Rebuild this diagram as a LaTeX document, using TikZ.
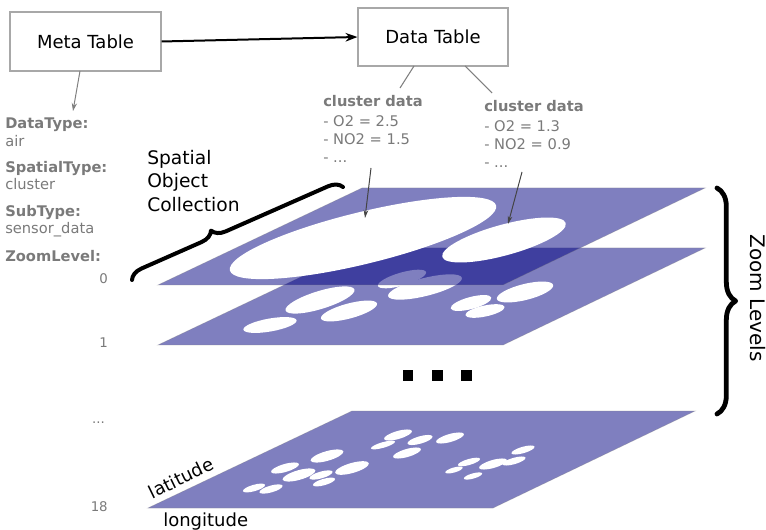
\documentclass[tikz,border=0pt]{standalone}
\usepackage{fontspec}
\setmainfont{DejaVu Sans}
\usetikzlibrary{arrows.meta,decorations.pathreplacing,calc}
\definecolor{layerblue}{HTML}{000080}
\definecolor{txtgray}{HTML}{7A7A7A}
\definecolor{boxgray}{HTML}{A8A8A8}
\definecolor{arrgray}{HTML}{444444}
\begin{document}
\begin{tikzpicture}[x=0.75pt,y=-0.75pt,
  tbox/.style={draw=boxgray, line width=0.8pt, inner sep=0pt, font=\fontsize{13.5}{16}\selectfont},
  glab/.style={anchor=base west, inner sep=0pt, text=txtgray, font=\fontsize{11}{13}\selectfont\bfseries},
  gval/.style={anchor=base west, inner sep=0pt, text=txtgray, font=\fontsize{11}{13}\selectfont},
  lvl/.style={anchor=base east, inner sep=0pt, text=txtgray, font=\fontsize{10}{12}\selectfont},
  big/.style={anchor=base west, inner sep=0pt, font=\fontsize{14}{17}\selectfont},
  layer/.style={fill=layerblue, fill opacity=0.5, draw=gray, draw opacity=0.35, line width=0.5pt},
  hole/.style={fill=white},
  dot/.style={fill=black},
  bracestyle/.style={decorate, line cap=round, line join=round}]
\useasboundingbox (0,0) rectangle (766,530);

% ---- layer 18 ----
\path[layer] (148,508) -- (493,508) -- (695,411) -- (352,411) -- cycle;
\foreach \cx/\cy/\a/\b in {254/488/11.5/3.2, 271/489/12/3.4, 285/468/14.5/4, 299/475/17/4.8,
  321/475/12/3.4, 324/482/11.5/3.2, 327/456/17/4.8, 352/468/17.5/5,
  383/445/12.5/2.8, 398/435/14.5/4, 420/440/13/3.7, 450/438/14.5/4, 407/453/14.5/4,
  454/470/9/2.5, 469/462/11.5/3, 493/464/14.5/4, 514/461/12/3.2, 523/450/12/3.2, 473/476/9.5/2.6}
  {\fill[hole, rotate around={16:(\cx,\cy)}] (\cx,\cy) ellipse [x radius=\a, y radius=\b];}

% ---- layer 1 ----
\path[layer] (158,345) -- (503,345) -- (705,248) -- (362,248) -- cycle;
\foreach \cx/\cy/\a/\b/\r in {270/325/27/6.5/10, 320/300/36/9/17, 349/311/29/7.5/15,
  425/287/38/9/14, 402/279/25/6.5/16, 471/303/21/6/15, 485/311/20/5.5/12, 525/292/29/8/14}
  {\fill[hole, rotate around={\r:(\cx,\cy)}] (\cx,\cy) ellipse [x radius=\a, y radius=\b];}

% ---- layer 0 ----
\path[layer] (158,285) -- (503,285) -- (705,188) -- (362,188) -- cycle;
\fill[hole, rotate around={13.7:(363,238)}] (363,238) ellipse [x radius=137, y radius=26];
\fill[hole, rotate around={15.3:(504,240)}] (504,240) ellipse [x radius=64, y radius=15.4];
\coordinate (e0a) at (365,218);
\coordinate (e0b) at (508,224);

% ---- dots ----
\fill[dot] (403,370) rectangle (413,381);
\fill[dot] (432,370) rectangle (443,381);
\fill[dot] (461,370) rectangle (472,381);

% ---- tables ----
\node[tbox, minimum width=113.25pt, minimum height=44.25pt] (meta) at (85.5,41.5) {Meta Table};
\node[tbox, minimum width=112.5pt, minimum height=43.5pt] (data) at (433,37) {Data Table};
\draw[line width=1.5pt, -{Stealth[length=9pt,width=6.5pt]}] (meta.east) -- (data.west);

% ---- meta labels ----
\node[glab] (dtl) at (5,129) {DataType:};
\node[gval] (dtv) at (5,147) {air};
\node[glab] (stl) at (5,173) {SpatialType:};
\node[gval] (stv) at (5,190) {cluster};
\node[glab] (sbl) at (5,217) {SubType:};
\node[gval] (sbv) at (5,234) {sensor\_data};
\node[glab] (zll) at (5,262) {ZoomLevel:};
\coordinate (m1) at (80,71);
\coordinate (m2) at (73,111);
\draw[gray, line width=0.75pt, -{Stealth[length=6pt,width=4pt]}] (m1) -- (m2);

% ---- cluster data ----
\node[glab] (c1h) at (323,107) {cluster data};
\node[gval] (c1a) at (323,127) {- O2 = 2.5};
\node[gval] (c1b) at (323,145) {- NO2 = 1.5};
\node[gval] (c1c) at (323,163) {- ...};
\node[glab] (c2h) at (484,112) {cluster data};
\node[gval] (c2a) at (484,132) {- O2 = 1.3};
\node[gval] (c2b) at (484,150) {- NO2 = 0.9};
\node[gval] (c2c) at (484,168) {- ...};
\coordinate (d1) at (414,66);
\coordinate (d1e) at (400,88);
\coordinate (d2) at (465,66);
\coordinate (d2e) at (492,93);
\draw[gray, line width=0.8pt] (d1) -- (d1e);
\draw[gray, line width=0.8pt] (d2) -- (d2e);
\coordinate (a1) at (371,168);
\coordinate (a2) at (522,172);
\draw[arrgray, line width=0.75pt, -{Stealth[length=6pt,width=3.5pt]}] (a1) -- (e0a);
\draw[arrgray, line width=0.75pt, -{Stealth[length=6pt,width=3.5pt]}] (a2) -- (e0b);

% ---- level numbers ----
\node[lvl] (l0) at (108,284) {0};
\node[lvl] (l1) at (108,348) {1};
\node[lvl] (ld) at (105,423) {...};
\node[lvl] (l18) at (108,511) {18};

% ---- spatial object collection ----
\node[big] (s1) at (147,165) {Spatial};
\node[big] (s2) at (147,188) {Object};
\node[big] (s3) at (147,212) {Collection};
\coordinate (b1) at (132,280);
\coordinate (b2) at (343,187);
\draw[bracestyle, decoration={brace, amplitude=10pt, aspect=0.4}, line width=3pt] (b1) -- (b2);

% ---- zoom levels ----
\coordinate (z1) at (717,188);
\coordinate (z2) at (717,414);
\draw[bracestyle, decoration={brace, amplitude=14pt}, line width=3.6pt] (z1) -- (z2);
\node[inner sep=0pt, rotate=-90, font=\fontsize{15}{18}\selectfont] (zl) at (758,298) {Zoom Levels};

% ---- axes ----
\node[inner sep=0pt, rotate=26, font=\fontsize{13.5}{16}\selectfont] (lat) at (181,478) {latitude};
\node[anchor=base west, inner sep=0pt, font=\fontsize{13.5}{16}\selectfont] (lon) at (163,526) {longitude};
\end{tikzpicture}
\end{document}
